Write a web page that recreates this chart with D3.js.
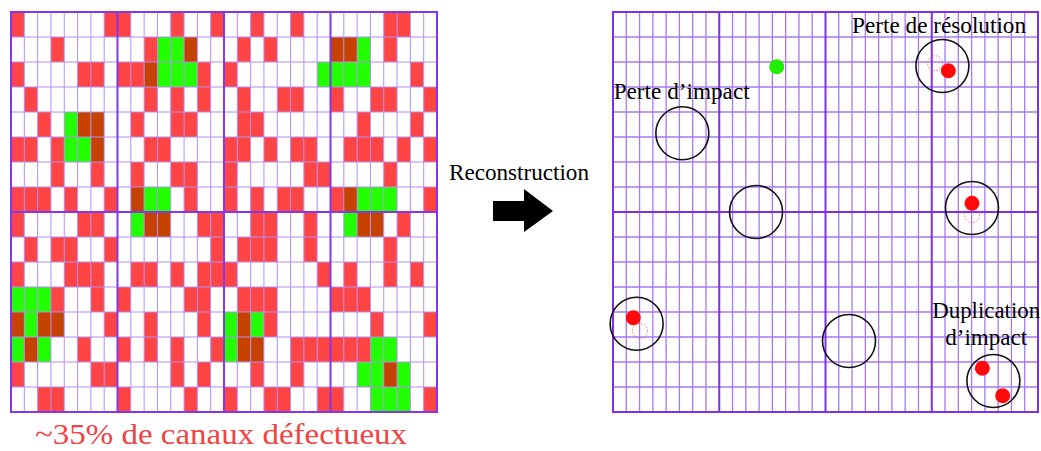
<!DOCTYPE html>
<html><head><meta charset="utf-8">
<script src="https://cdn.jsdelivr.net/npm/d3@7"></script>
<style>body{margin:0;background:#fff}svg{display:block}</style>
</head><body>
<svg id="c" width="1041" height="451"></svg>
<script>
// ---- DATA ----
// left grid: 16 rows x 32 channels; '.' ok, 'r' defective, 'g' hit, 'b' defective hit
const leftRows = [
  "r......rr...r..r..r..r......rr..",
  "...r......rggb...r.r....bbg.r...",
  "r....rr.rrbgggr.r......gggg...r.",
  ".r........r.r.r..r..rr..r..rr..r",
  "..r.gbb..r..rr...rr.......r...r.",
  "rr.rggb...rr....rr.r.rr..rrr.r.r",
  "...r..r..r..rr..r.....rr....r...",
  "rrr.r..r.bgg.r..r.r.rr..rbggg..r",
  "r....rr..gbb..rr..rr..r..gbb.r..",
  ".r.rr..r.......r.rrr..r.....r...",
  "r...rrr..rr.r.rrr......r.r..r.r.",
  "gggr..r.r....rr..rrr....rrr.....",
  "bgbb...r..r...r.gbgr.......r...r",
  "gbg..r..r.r.r..rgbb..rrrrrrgg...",
  "r.....rr....r.r...r..r....ggbg..",
  "..rr....r....r..r..rr..rr..ggg.r"
];
const nCols = 32, nRows = 16, blockCols = 8, blockRows = 8;
// right grid: reconstructed objects in grid units (col,row)
const trueImpacts = [
  {x: 5.22, y: 4.85}, {x: 10.77, y: 8.0}, {x: 24.8, y: 2.16},
  {x: 27.03, y: 7.84}, {x: 1.78, y: 12.47}, {x: 17.77, y: 13.16}, {x: 28.64, y: 14.76}
];
const recoRed = [ {x: 25.25, y: 2.35}, {x: 27.03, y: 7.65}, {x: 1.53, y: 12.23},
  {x: 27.81, y: 14.25}, {x: 29.34, y: 15.35} ];
const recoGreen = [ {x: 12.33, y: 2.19} ];
const expected = [ {x: 24.25, y: 2.05}, {x: 27.03, y: 8.12}, {x: 2.03, y: 12.76} ];
const labels = [
  {t: "Perte d’impact", x: 0.05, y: 3.48, a: "start", w: 136},
  {t: "Perte de résolution", x: 18.0, y: 0.83, a: "start", w: 174},
  {t: "Duplication", x: 28.1, y: 12.25, a: "middle", w: 108},
  {t: "d’impact", x: 28.1, y: 13.33, a: "middle", w: 82}
];
const arrowLabel = "Reconstruction";
const bottomLabel = "~35% de canaux défectueux";

// ---- DRAW ----
const svg = d3.select("#c");
const colors = {".": "#ffffff", r: "#ff4444", g: "#22ff00", b: "#c64200"};
const serif = "Liberation Serif, Times New Roman, serif";

function grid(x0, x1, thin, thinW, thick) {
  const x = d3.scaleLinear().domain([0, nCols]).range([x0, x1]);
  const y = d3.scaleLinear().domain([0, nRows]).range([12, 412]);
  const g = svg.append("g");
  return {x, y, g, lines() {
    const v = d3.range(0, nCols + 1), h = d3.range(0, nRows + 1);
    g.selectAll(null).data(v.filter(i => i % blockCols)).join("line")
      .attr("x1", d => x(d)).attr("x2", d => x(d)).attr("y1", y(0)).attr("y2", y(nRows))
      .attr("stroke", thin).attr("stroke-width", thinW);
    g.selectAll(null).data(h.filter(i => i % blockRows)).join("line")
      .attr("y1", d => y(d)).attr("y2", d => y(d)).attr("x1", x(0)).attr("x2", x(nCols))
      .attr("stroke", thin).attr("stroke-width", thinW);
    g.selectAll(null).data(v.filter(i => i % blockCols === 0)).join("line")
      .attr("x1", d => x(d)).attr("x2", d => x(d)).attr("y1", y(0) - 1).attr("y2", y(nRows) + 1)
      .attr("stroke", thick).attr("stroke-width", 2);
    g.selectAll(null).data(h.filter(i => i % blockRows === 0)).join("line")
      .attr("y1", d => y(d)).attr("y2", d => y(d)).attr("x1", x(0) - 1).attr("x2", x(nCols) + 1)
      .attr("stroke", thick).attr("stroke-width", 2);
  }};
}

// left
const L = grid(11, 437, "#b48ef4", 1, "#8436ea");
const cells = [];
leftRows.forEach((row, r) => row.split("").forEach((c, k) => cells.push({r, k, c})));
L.g.selectAll("rect").data(cells).join("rect")
  .attr("x", d => L.x(d.k)).attr("y", d => L.y(d.r))
  .attr("width", L.x(1) - L.x(0)).attr("height", L.y(1) - L.y(0))
  .attr("fill", d => colors[d.c]);
L.lines();

// right
const R = grid(613, 1038, "#a678f2", 1.3, "#7e30e8");
R.lines();
R.g.selectAll("circle.t").data(trueImpacts).join("circle").attr("class", "t")
  .attr("cx", d => R.x(d.x)).attr("cy", d => R.y(d.y)).attr("r", 26.5)
  .attr("fill", "none").attr("stroke", "#111").attr("stroke-width", 1.6);
R.g.selectAll("circle.e").data(expected).join("circle").attr("class", "e")
  .attr("cx", d => R.x(d.x)).attr("cy", d => R.y(d.y)).attr("r", 7.5)
  .attr("fill", "none").attr("stroke", "#f06060").attr("stroke-width", 0.8).attr("stroke-dasharray", "1.5,1.5");
R.g.selectAll("circle.rr").data(recoRed).join("circle").attr("class", "rr")
  .attr("cx", d => R.x(d.x)).attr("cy", d => R.y(d.y)).attr("r", 7.5).attr("fill", "#ff0a0a");
R.g.selectAll("circle.gg").data(recoGreen).join("circle").attr("class", "gg")
  .attr("cx", d => R.x(d.x)).attr("cy", d => R.y(d.y)).attr("r", 7.5).attr("fill", "#22ee00");
R.g.selectAll("text").data(labels).join("text")
  .attr("x", d => R.x(d.x)).attr("y", d => R.y(d.y)).attr("text-anchor", d => d.a)
  .attr("font-family", serif).attr("font-size", 23)
  .attr("textLength", d => d.w).attr("lengthAdjust", "spacingAndGlyphs")
  .attr("fill", "#000").text(d => d.t);

// middle arrow + label
svg.append("text").attr("x", 519).attr("y", 180).attr("text-anchor", "middle")
  .attr("font-family", serif).attr("font-size", 23)
  .attr("textLength", 140).attr("lengthAdjust", "spacingAndGlyphs").text(arrowLabel);
const ax = 493, ay = 211;
svg.append("path").attr("fill", "#000")
  .attr("d", `M${ax},${ay-10}H${ax+31}V${ay-22}L${ax+60},${ay}L${ax+31},${ay+21}V${ay+10}H${ax}Z`);

// bottom label
svg.append("text").attr("x", 221).attr("y", 444).attr("text-anchor", "middle")
  .attr("font-family", serif).attr("font-size", 29)
  .attr("textLength", 372).attr("lengthAdjust", "spacingAndGlyphs")
  .attr("fill", "#ee4444").text(bottomLabel);
</script>
</body></html>
